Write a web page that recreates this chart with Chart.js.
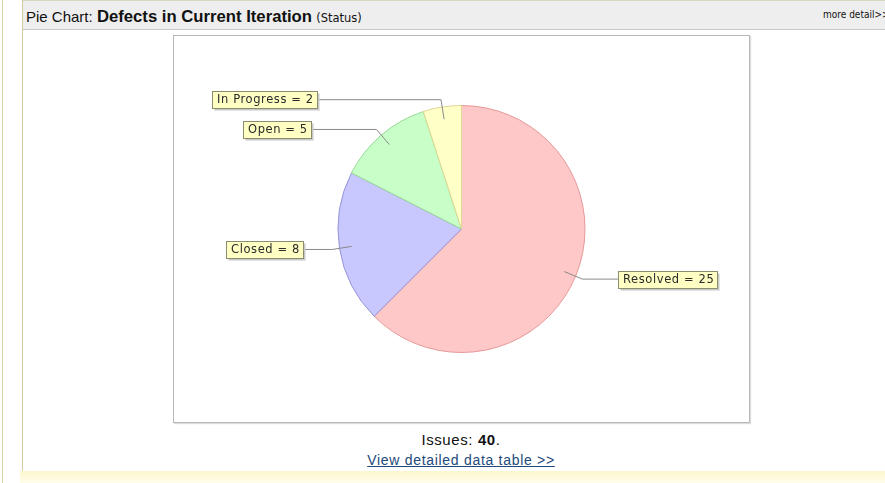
<!DOCTYPE html>
<html>
<head>
<meta charset="utf-8">
<script src="https://cdn.jsdelivr.net/npm/chart.js@4/dist/chart.umd.min.js"></script>
<style>
    body { margin: 0; background: #fff; font-family: "Liberation Sans", Arial, sans-serif; width: 885px; height: 483px; overflow: hidden; position: relative; }
    .edge { position: absolute; left: 2px; top: 0; width: 1px; height: 483px; background: #d6d2a8; }
    .panel { position: absolute; left: 22px; top: 0; width: 863px; height: 471px; border-left: 1px solid #cfcb9c; }
    .header { height: 28px; background: #eeeeee; border-top: 1px solid #d8d8c0; border-bottom: 1px solid #c8c8c8; position: relative; white-space: nowrap; }
    .title { position: absolute; left: 3px; top: 6px; font-size: 15px; color: #111; }
    .title b { font-size: 16.7px; }
    .title small { font-size: 11.5px; font-family: "DejaVu Sans", sans-serif; }
    .more { position: absolute; left: 800px; top: 8px; font-size: 10px; font-family: "DejaVu Sans Condensed", "DejaVu Sans", sans-serif; color: #111; }
    .box { position: absolute; left: 173px; top: 35px; width: 575px; height: 386px; border: 1px solid #b8b8b8; box-shadow: 1px 1px 1px #ddd; background: #fff; }
    .issues { position: absolute; left: 0; width: 922px; top: 431px; text-align: center; font-size: 15px; letter-spacing: 0.6px; color: #111; }
    .link { position: absolute; left: 0; width: 922px; top: 452px; text-align: center; font-size: 14px; letter-spacing: 0.7px; }
    .link a { color: #23497a; text-decoration: underline; }
    .foot { position: absolute; left: 20px; top: 471px; width: 865px; height: 12px; background: linear-gradient(#fbf7cf, #fffde8); }
</style>
</head>
<body>
<div class="edge"></div>
<div class="panel">
    <div class="header">
        <div class="title">Pie Chart: <b>Defects in Current Iteration</b> <small>(Status)</small></div>
        <div class="more">more detail&gt;&gt;</div>
    </div>
</div>
<div class="box"><canvas id="pieChart" width="575" height="386"></canvas></div>
<div class="issues">Issues: <b>40</b>.</div>
<div class="link"><a href="#">View detailed data table &gt;&gt;</a></div>
<div class="foot"></div>

<script>
const statuses = ['Resolved', 'Closed', 'Open', 'In Progress']
const counts = [25, 8, 5, 2]
const fillColors = ['#ffc8c8', '#c8c8ff', '#c8ffc8', '#ffffc8']
const edgeColors = ['#e69898', '#9494d8', '#98d898', '#e0d890']

// JFreeChart-like labels with leader lines
const calloutPlugin = {
    id: 'callouts',
    afterDatasetsDraw(chart) {
        const ctx = chart.ctx
        const meta = chart.getDatasetMeta(0)
        ctx.save()
        ctx.font = '500 11.5px "DejaVu Sans", sans-serif'
        ctx.letterSpacing = '0.6px'
        meta.data.forEach((arc, i) => {
            const {x, y, startAngle, endAngle, outerRadius: r} = arc.getProps(['x', 'y', 'startAngle', 'endAngle', 'outerRadius'], true)
            const mid = (startAngle + endAngle) / 2
            const cos = Math.cos(mid), sin = Math.sin(mid)
            const ax = x + cos * r * 0.9, ay = y + sin * r * 0.9
            const ex = x + cos * r * 1.06, ey = y + sin * r * 1.06
            const dy = ey - y
            const reach = Math.sqrt(Math.pow(r * 1.285, 2) - 0.258 * dy * dy)
            const left = cos < 0
            const edgeX = left ? x - reach : x + reach

            ctx.strokeStyle = '#8a8a8a'
            ctx.lineWidth = 1
            ctx.beginPath()
            ctx.moveTo(ax, ay)
            ctx.lineTo(ex, ey)
            ctx.lineTo(edgeX, ey)
            ctx.stroke()

            const text = statuses[i] + ' = ' + counts[i]
            const w = Math.round(ctx.measureText(text).width) + 8
            const h = 17
            const bx = Math.round(left ? edgeX - w : edgeX) + 0.5
            const by = Math.round(ey - h / 2) + 0.5

            ctx.fillStyle = '#c8c8c8'
            ctx.fillRect(bx + 2, by + 2, w, h)
            ctx.fillStyle = '#ffffc4'
            ctx.fillRect(bx, by, w, h)
            ctx.strokeStyle = '#8c8c70'
            ctx.strokeRect(bx, by, w, h)
            ctx.fillStyle = '#2a2a2a'
            ctx.textBaseline = 'middle'
            ctx.fillText(text, bx + 4.5, by + h / 2 + 0.5)
        })
        ctx.restore()
    }
}

const init = () => {
    const ctx = document.getElementById('pieChart')

    new Chart(ctx, {
        type: 'pie',
        data: {
            labels: statuses,
            datasets: [{
                data: counts,
                backgroundColor: fillColors,
                borderColor: edgeColors,
                borderWidth: 1
            }]
        },
        options: {
            responsive: false,
            animation: false,
            layout: {padding: {top: 69, bottom: 69, left: 20, right: 20}},
            plugins: {
                legend: {display: false},
                tooltip: {enabled: false}
            }
        },
        plugins: [calloutPlugin]
    })
}

document.addEventListener('DOMContentLoaded', init)
</script>
</body>
</html>
